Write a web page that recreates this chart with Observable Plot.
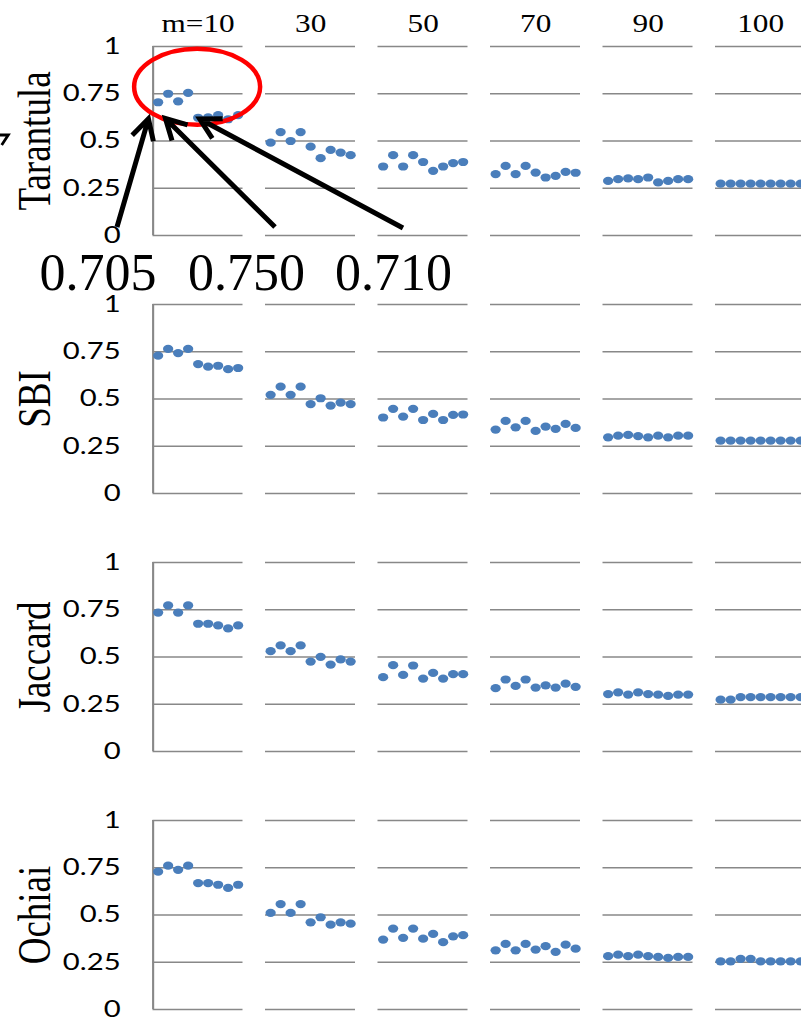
<!DOCTYPE html>
<html><head><meta charset="utf-8">
<script src="https://cdn.jsdelivr.net/npm/d3@7"></script>
<script src="https://cdn.jsdelivr.net/npm/@observablehq/plot@0.6"></script>
<style>
html,body{margin:0;padding:0;background:#fff;overflow:hidden;}
#wrap{position:relative;width:801px;height:1021px;overflow:hidden;background:#fff;}
#wrap > svg{position:absolute;left:0;top:0;}
</style></head><body><div id="wrap"></div>
<script>
// ---- data ----
const metrics = ["Tarantula", "SBI", "Jaccard", "Ochiai"];
const mValues = [10, 30, 50, 70, 90, 100];
const mLabels = ["m=10", "30", "50", "70", "90", "100"];
const runs = [1, 2, 3, 4, 5, 6, 7, 8, 9];
const yTicks = [0, 0.25, 0.5, 0.75, 1];

const tarantula = [
  [0.705, 0.750, 0.710, 0.755, 0.623, 0.625, 0.637, 0.615, 0.637],
  [0.491, 0.547, 0.500, 0.547, 0.470, 0.409, 0.453, 0.439, 0.425],
  [0.365, 0.425, 0.365, 0.425, 0.389, 0.342, 0.365, 0.383, 0.389],
  [0.325, 0.368, 0.325, 0.368, 0.333, 0.307, 0.316, 0.337, 0.332],
  [0.289, 0.298, 0.302, 0.298, 0.307, 0.281, 0.289, 0.298, 0.298],
  [0.274, 0.274, 0.274, 0.274, 0.274, 0.274, 0.274, 0.274, 0.274]
];
const sbi = [
  [0.729, 0.765, 0.743, 0.765, 0.685, 0.671, 0.676, 0.658, 0.664],
  [0.522, 0.565, 0.522, 0.565, 0.473, 0.504, 0.465, 0.481, 0.473],
  [0.402, 0.448, 0.407, 0.448, 0.389, 0.421, 0.389, 0.416, 0.418],
  [0.338, 0.384, 0.350, 0.384, 0.331, 0.354, 0.342, 0.368, 0.347],
  [0.297, 0.306, 0.310, 0.304, 0.297, 0.306, 0.297, 0.306, 0.306],
  [0.280, 0.280, 0.280, 0.280, 0.280, 0.280, 0.280, 0.280, 0.280]
];
const jaccard = [
  [0.735, 0.773, 0.735, 0.773, 0.676, 0.676, 0.667, 0.651, 0.667],
  [0.531, 0.561, 0.531, 0.561, 0.476, 0.501, 0.460, 0.487, 0.476],
  [0.393, 0.457, 0.405, 0.455, 0.386, 0.416, 0.386, 0.409, 0.409],
  [0.335, 0.381, 0.347, 0.381, 0.338, 0.350, 0.338, 0.359, 0.342],
  [0.304, 0.313, 0.301, 0.313, 0.304, 0.301, 0.294, 0.301, 0.301],
  [0.274, 0.274, 0.288, 0.288, 0.288, 0.288, 0.288, 0.288, 0.288]
];
const ochiai = [
  [0.729, 0.761, 0.739, 0.761, 0.669, 0.669, 0.660, 0.643, 0.660],
  [0.511, 0.558, 0.511, 0.558, 0.461, 0.488, 0.449, 0.461, 0.454],
  [0.370, 0.428, 0.379, 0.428, 0.375, 0.400, 0.356, 0.387, 0.393],
  [0.313, 0.347, 0.313, 0.347, 0.317, 0.335, 0.305, 0.343, 0.322],
  [0.282, 0.290, 0.282, 0.290, 0.282, 0.278, 0.273, 0.278, 0.278],
  [0.255, 0.255, 0.268, 0.268, 0.255, 0.255, 0.255, 0.255, 0.255]
];
const series = [tarantula, sbi, jaccard, ochiai];

const rows = metrics.flatMap((metric, k) =>
  series[k].flatMap((vals, g) =>
    vals.map((value, i) => ({metric, m: mValues[g], run: runs[i], value}))));

// ---- chart ----
const W = 660, H = 1021, STRETCH = 1.25;
const xDomain = [runs[0] - 0.5, runs[runs.length - 1] + 0.5];
const GRID = "#888888";
const SERIF = "'Liberation Serif', 'Times New Roman', serif";

const chart = Plot.plot({
  width: W, height: H,
  marginTop: 45, marginBottom: 11, marginLeft: 122, marginRight: 16,
  style: {fontFamily: "Lato, sans-serif", fontSize: "23.4px", color: "#000", background: "transparent", overflow: "visible"},
  facet: {data: rows, x: "m", y: "metric"},
  fx: {domain: mValues, paddingInner: 0.2, paddingOuter: 0, axis: null},
  fy: {domain: metrics, paddingInner: 0.268, paddingOuter: 0, axis: null},
  x: {type: "linear", domain: xDomain, axis: null},
  y: {domain: [0, 1], ticks: yTicks, tickFormat: d => String(d), tickSize: 0, tickPadding: 26, label: null},
  marks: [
    Plot.ruleY(yTicks, {stroke: GRID, strokeWidth: 1.3}),
    Plot.ruleX(rows, {filter: d => d.m === mValues[0] && d.run === runs[0],
      x: () => xDomain[0], y1: () => 0, y2: () => 1, stroke: GRID, strokeWidth: 1.7}),
    Plot.dot(rows, {x: "run", y: "value", r: 4.1, fill: "#4A7EBB", stroke: "none",
      title: d => `${d.metric}|${d.m}|${d.run}`}),
    Plot.text(rows, {filter: d => d.m === mValues[0] && d.run === runs[0],
      text: "metric", frameAnchor: "left", textAnchor: "middle", lineAnchor: "middle",
      rotate: -90, dx: -94, fontFamily: SERIF, fontSize: 37, fill: "#000"}),
    Plot.text(rows, {filter: d => d.metric === metrics[0] && d.run === runs[0],
      text: d => mLabels[mValues.indexOf(d.m)], frameAnchor: "top", textAnchor: "middle",
      lineAnchor: "bottom", dy: -15, fontFamily: SERIF, fontSize: 25, fill: "#000"})
  ]
});

const wrap = document.getElementById("wrap");
wrap.appendChild(chart);
if (!chart.getAttribute("viewBox")) chart.setAttribute("viewBox", `0 0 ${W} ${H}`);
chart.setAttribute("width", W * STRETCH);
chart.setAttribute("height", H);
chart.setAttribute("preserveAspectRatio", "none");
chart.style.maxWidth = "none";
chart.style.width = (W * STRETCH) + "px";
chart.style.height = H + "px";

// ---- annotation overlay (anchored to the rendered points) ----
const wr = wrap.getBoundingClientRect();
function dotCenter(metric, m, run) {
  const key = `${metric}|${m}|${run}`;
  for (const c of chart.querySelectorAll("circle")) {
    const t = c.querySelector("title");
    if (t && t.textContent === key) {
      const r = c.getBoundingClientRect();
      return [(r.left + r.right) / 2 - wr.left, (r.top + r.bottom) / 2 - wr.top];
    }
  }
  return null;
}
const p = runs.map(r => dotCenter(metrics[0], mValues[0], r));
const fmt = d3.format(".3f");
const labelX = [98, 246.5, 393.5];
const labelBaseline = 290;
const tails = [[117, 227], [275, 227], [403, 228]];
const tipOffsets = [[-9.7, 16.6], [-2.7, 24.7], [21.6, 17.7]];

const ov = d3.select(wrap).append("svg")
  .attr("width", 801).attr("height", 1021)
  .style("position", "absolute").style("left", 0).style("top", 0);

if (p[0] && p[8]) {
  const cx = (p[0][0] + p[8][0]) / 2 - 1;
  const cy = p[1][1] - 7;
  ov.append("ellipse")
    .attr("cx", cx).attr("cy", cy)
    .attr("rx", (p[8][0] - p[0][0]) / 2 + 23).attr("ry", 38)
    .attr("fill", "none").attr("stroke", "#ff0000").attr("stroke-width", 4.5);

  function arrow(x1, y1, x2, y2, len, w) {
    const a = Math.atan2(y2 - y1, x2 - x1), h = 0.5;
    const a1 = [x2 - len * Math.cos(a - h), y2 - len * Math.sin(a - h)];
    const a2 = [x2 - len * Math.cos(a + h), y2 - len * Math.sin(a + h)];
    ov.append("path")
      .attr("d", `M${x1},${y1}L${x2},${y2}M${a1}L${x2},${y2}L${a2}`)
      .attr("fill", "none").attr("stroke", "#000").attr("stroke-width", w)
      .attr("stroke-linejoin", "miter").attr("stroke-linecap", "butt");
  }
  for (let i = 0; i < 3; i++) {
    const tip = [p[i][0] + tipOffsets[i][0], p[i][1] + tipOffsets[i][1]];
    arrow(tails[i][0], tails[i][1], tip[0], tip[1], 23, 5);
  }
}
// fragment of another arrow at the left edge
ov.append("path").attr("d", "M0,135L8.3,135L1.7,145")
  .attr("fill", "none").attr("stroke", "#000").attr("stroke-width", 2.8);

ov.selectAll("text.val").data(tarantula[0].slice(0, 3)).join("text")
  .attr("x", (d, i) => labelX[i]).attr("y", labelBaseline)
  .attr("text-anchor", "middle")
  .style("font-family", SERIF).style("font-size", "52px").attr("fill", "#000")
  .text(d => fmt(d));
</script></body></html>
